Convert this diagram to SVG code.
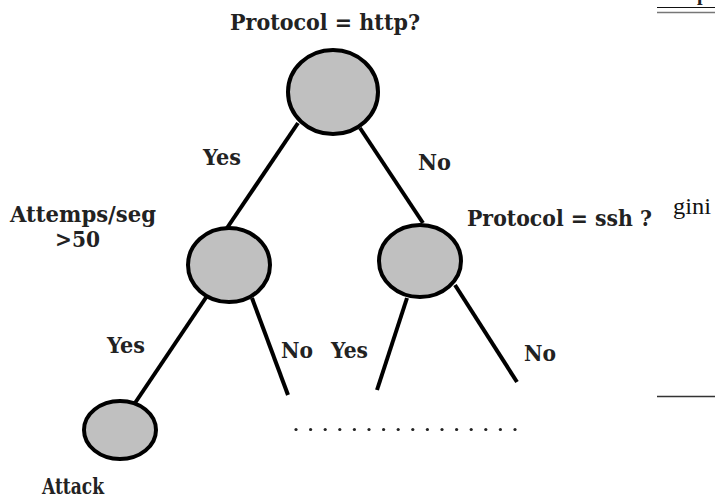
<svg xmlns="http://www.w3.org/2000/svg" width="715" height="502" viewBox="0 0 715 502">
<style>
.node{fill:#c0c0c0;stroke:#000;stroke-width:4}
.edge{stroke:#000;stroke-width:4;fill:none;stroke-linecap:butt}
.lbl{font-family:"DejaVu Serif","Liberation Serif",serif;font-weight:bold;font-size:21.5px;fill:#222}
.dot{fill:#222}
</style>
<rect width="715" height="502" fill="#fff"/>
<g id="connectors">
<line class="edge" x1="298" y1="123" x2="227" y2="228"/>
<line class="edge" x1="360" y1="128" x2="423" y2="223"/>
<line class="edge" x1="207" y1="296" x2="135" y2="403"/>
<line class="edge" x1="252" y1="298" x2="288" y2="395"/>
<line class="edge" x1="407" y1="298" x2="377" y2="390"/>
<line class="edge" x1="455" y1="285" x2="517" y2="382"/>
</g>
<g id="root">
<ellipse class="node" cx="333" cy="92" rx="45" ry="42"/>
<text class="lbl" x="230" y="30" textLength="190" lengthAdjust="spacingAndGlyphs">Protocol = http?</text>
</g>
<g id="attempts">
<ellipse class="node" cx="229" cy="265" rx="41" ry="37"/>
<text class="lbl" x="10" y="222" textLength="146" lengthAdjust="spacingAndGlyphs">Attemps/seg</text>
<text class="lbl" x="55" y="247" textLength="45" lengthAdjust="spacingAndGlyphs">&gt;50</text>
</g>
<g id="ssh">
<ellipse class="node" cx="420" cy="261" rx="41" ry="36"/>
<text class="lbl" x="467" y="226" textLength="185" lengthAdjust="spacingAndGlyphs">Protocol = ssh ?</text>
</g>
<g id="attack">
<ellipse class="node" cx="120" cy="430" rx="36" ry="29"/>
<text class="lbl" x="42" y="494" textLength="62" lengthAdjust="spacingAndGlyphs">Attack</text>
</g>
<g id="edge-labels">
<text class="lbl" x="203" y="165" textLength="38" lengthAdjust="spacingAndGlyphs">Yes</text>
<text class="lbl" x="418" y="170" textLength="33" lengthAdjust="spacingAndGlyphs">No</text>
<text class="lbl" x="107" y="353" textLength="38" lengthAdjust="spacingAndGlyphs">Yes</text>
<text class="lbl" x="281" y="358" textLength="32" lengthAdjust="spacingAndGlyphs">No</text>
<text class="lbl" x="331" y="358" textLength="37" lengthAdjust="spacingAndGlyphs">Yes</text>
<text class="lbl" x="524" y="361" textLength="32" lengthAdjust="spacingAndGlyphs">No</text>
</g>
<g id="ellipsis">
<circle class="dot" cx="296" cy="429.5" r="1.6"/>
<circle class="dot" cx="310.6" cy="429.5" r="1.6"/>
<circle class="dot" cx="325.2" cy="429.5" r="1.6"/>
<circle class="dot" cx="339.8" cy="429.5" r="1.6"/>
<circle class="dot" cx="354.4" cy="429.5" r="1.6"/>
<circle class="dot" cx="369" cy="429.5" r="1.6"/>
<circle class="dot" cx="383.6" cy="429.5" r="1.6"/>
<circle class="dot" cx="398.2" cy="429.5" r="1.6"/>
<circle class="dot" cx="412.8" cy="429.5" r="1.6"/>
<circle class="dot" cx="427.4" cy="429.5" r="1.6"/>
<circle class="dot" cx="442" cy="429.5" r="1.6"/>
<circle class="dot" cx="456.6" cy="429.5" r="1.6"/>
<circle class="dot" cx="471.2" cy="429.5" r="1.6"/>
<circle class="dot" cx="485.8" cy="429.5" r="1.6"/>
<circle class="dot" cx="500.4" cy="429.5" r="1.6"/>
<circle class="dot" cx="515" cy="429.5" r="1.6"/>
</g>
<g id="margin">
<text x="697" y="0" font-family="Liberation Serif,serif" font-weight="bold" font-size="20" fill="#222">p</text>
<line x1="657" y1="7.5" x2="715" y2="7.5" stroke="#111" stroke-width="1.2"/>
<line x1="657" y1="12.5" x2="715" y2="12.5" stroke="#777" stroke-width="1.5"/>
<text x="673" y="214" font-family="Liberation Serif,serif" font-size="23" fill="#111" textLength="38" lengthAdjust="spacingAndGlyphs">gini</text>
<line x1="657" y1="396.5" x2="715" y2="396.5" stroke="#333" stroke-width="1.5"/>
</g>
</svg>
